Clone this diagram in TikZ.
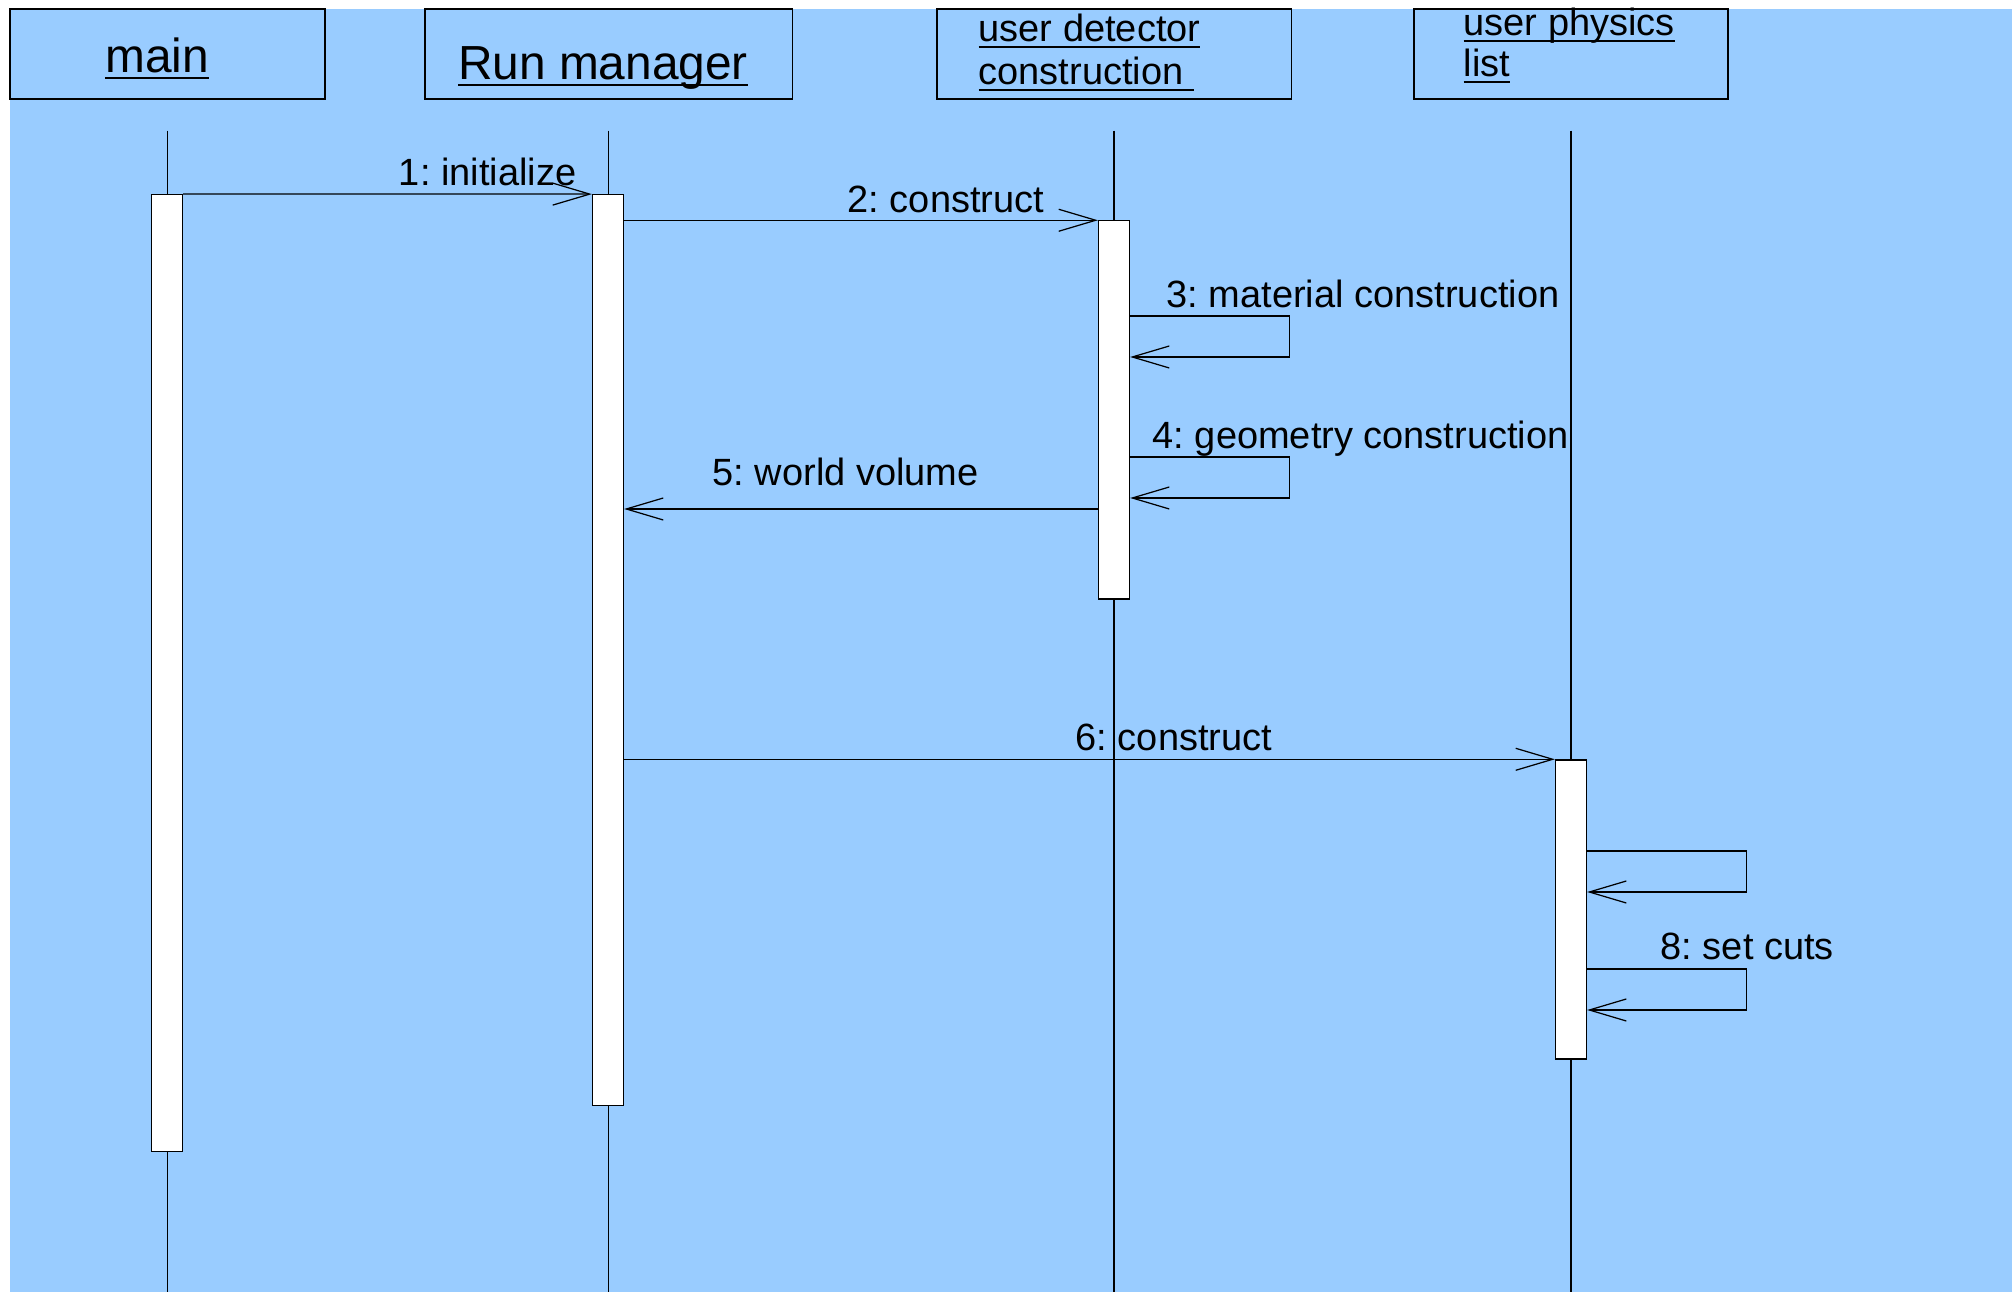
\documentclass[tikz,border=0pt]{standalone}
\usepackage{fontspec}
\setmainfont{Liberation Sans}
\usepackage{tikz}
\usetikzlibrary{arrows.meta}
\definecolor{bgblue}{HTML}{99CCFF}
\newcommand{\hdrul}[1]{\underline{\smash{#1}}}
\frenchspacing

\begin{document}
\begin{tikzpicture}[x=0.01cm,y=-0.01cm,
   head/.style={rectangle,draw,fill=bgblue,line width=0.35pt,inner sep=0pt},
   act/.style={rectangle,draw,fill=white,line width=0.35pt,inner sep=0pt,
    minimum width=0.31cm},
   life/.style={line width=0.35pt},
   msg/.style={line width=0.35pt,-{Straight Barb[length=3.7mm,width=2.2mm]}},
   big/.style={font=\fontsize{13.6}{16}\selectfont,inner sep=0pt},
   lbl/.style={font=\fontsize{10.8}{13}\selectfont,inner sep=0pt}
    ]
  \useasboundingbox (0,0) rectangle (2012,1292);
  \fill[bgblue] (10,9) rectangle (2012,1292);
  \coordinate (bot) at (0,1292);

  % -- object boxes
  \node[head,minimum width=3.15cm,minimum height=0.9cm] at (167.5,54) (main) {};
  \node[head,minimum width=3.67cm,minimum height=0.9cm] at (608.5,54) (runmgr) {};
  \node[head,minimum width=3.54cm,minimum height=0.9cm] at (1114,54) (detcon) {};
  \node[head,minimum width=3.14cm,minimum height=0.9cm] at (1571,54) (physlist) {};

  \node[big,anchor=base] at (157,73) (mainTxt) {\hdrul{main}};
  \node[big,anchor=base] at (603,80) (runTxt) {\hdrul{Run manager}};
  \node[lbl,anchor=base west] at (978,42) (detTxtA) {\hdrul{user detector}};
  \node[lbl,anchor=base west] at (978,85) (detTxtB) {\hdrul{construction\ }};
  \node[lbl,anchor=base west] at (1463,36) (physTxtA) {\hdrul{user physics}};
  \node[lbl,anchor=base west] at (1463,77) (physTxtB) {\hdrul{list}};

  % -- lifelines
  \draw[life] ([yshift=-0.31cm]main.south) -- (main.south |- bot);
  \draw[life] ([yshift=-0.31cm]runmgr.south) -- (runmgr.south |- bot);
  \draw[life] ([yshift=-0.31cm]detcon.south) -- (detcon.south |- bot);
  \draw[life] ([yshift=-0.31cm]physlist.south) -- (physlist.south |- bot);

  % -- activations
  \node[act,minimum height=9.56cm] at (167,673) (actMain) {};
  \node[act,minimum height=9.10cm] at (608,650) (actRun) {};
  \node[act,minimum height=3.78cm] at (1114,410) (actDet) {};
  \node[act,minimum height=2.99cm] at (1571,909.5) (actPhys) {};

  % -- messages
  \draw[msg] (actMain.north east) -- (actRun.north west);
  \draw[msg] (actRun.east |- actDet.north) -- (actDet.north west);
  \draw[msg] (actDet.east |- 0,316) -- ++(159,0) -- ++(0,41) -- (actDet.east |- 0,357);
  \draw[msg] (actDet.east |- 0,457) -- ++(159,0) -- ++(0,41) -- (actDet.east |- 0,498);
  \draw[msg] (actDet.west |- 0,509) -- (actRun.east |- 0,509);
  \draw[msg] (actRun.east |- actPhys.north) -- (actPhys.north west);
  \draw[msg] (actPhys.east |- 0,851) -- ++(159,0) -- ++(0,41) -- (actPhys.east |- 0,892);
  \draw[msg] (actPhys.east |- 0,969) -- ++(159,0) -- ++(0,41) -- (actPhys.east |- 0,1010);

  % -- labels
  \node[lbl,anchor=base east] at (577,186) (m1) {1: initialize};
  \node[lbl,anchor=base west] at (847,213) (m2) {2: construct};
  \node[lbl,anchor=base west] at (1166,308) (m3) {3: material construction};
  \node[lbl,anchor=base west] at (1152,449) (m4) {4: geometry construction};
  \node[lbl,anchor=base west] at (712,486) (m5) {5: world volume};
  \node[lbl,anchor=base west] at (1075,751) (m6) {6: construct};
  \node[lbl,anchor=base west] at (1660,960) (m8) {8: set cuts};

\end{tikzpicture}
\end{document}
